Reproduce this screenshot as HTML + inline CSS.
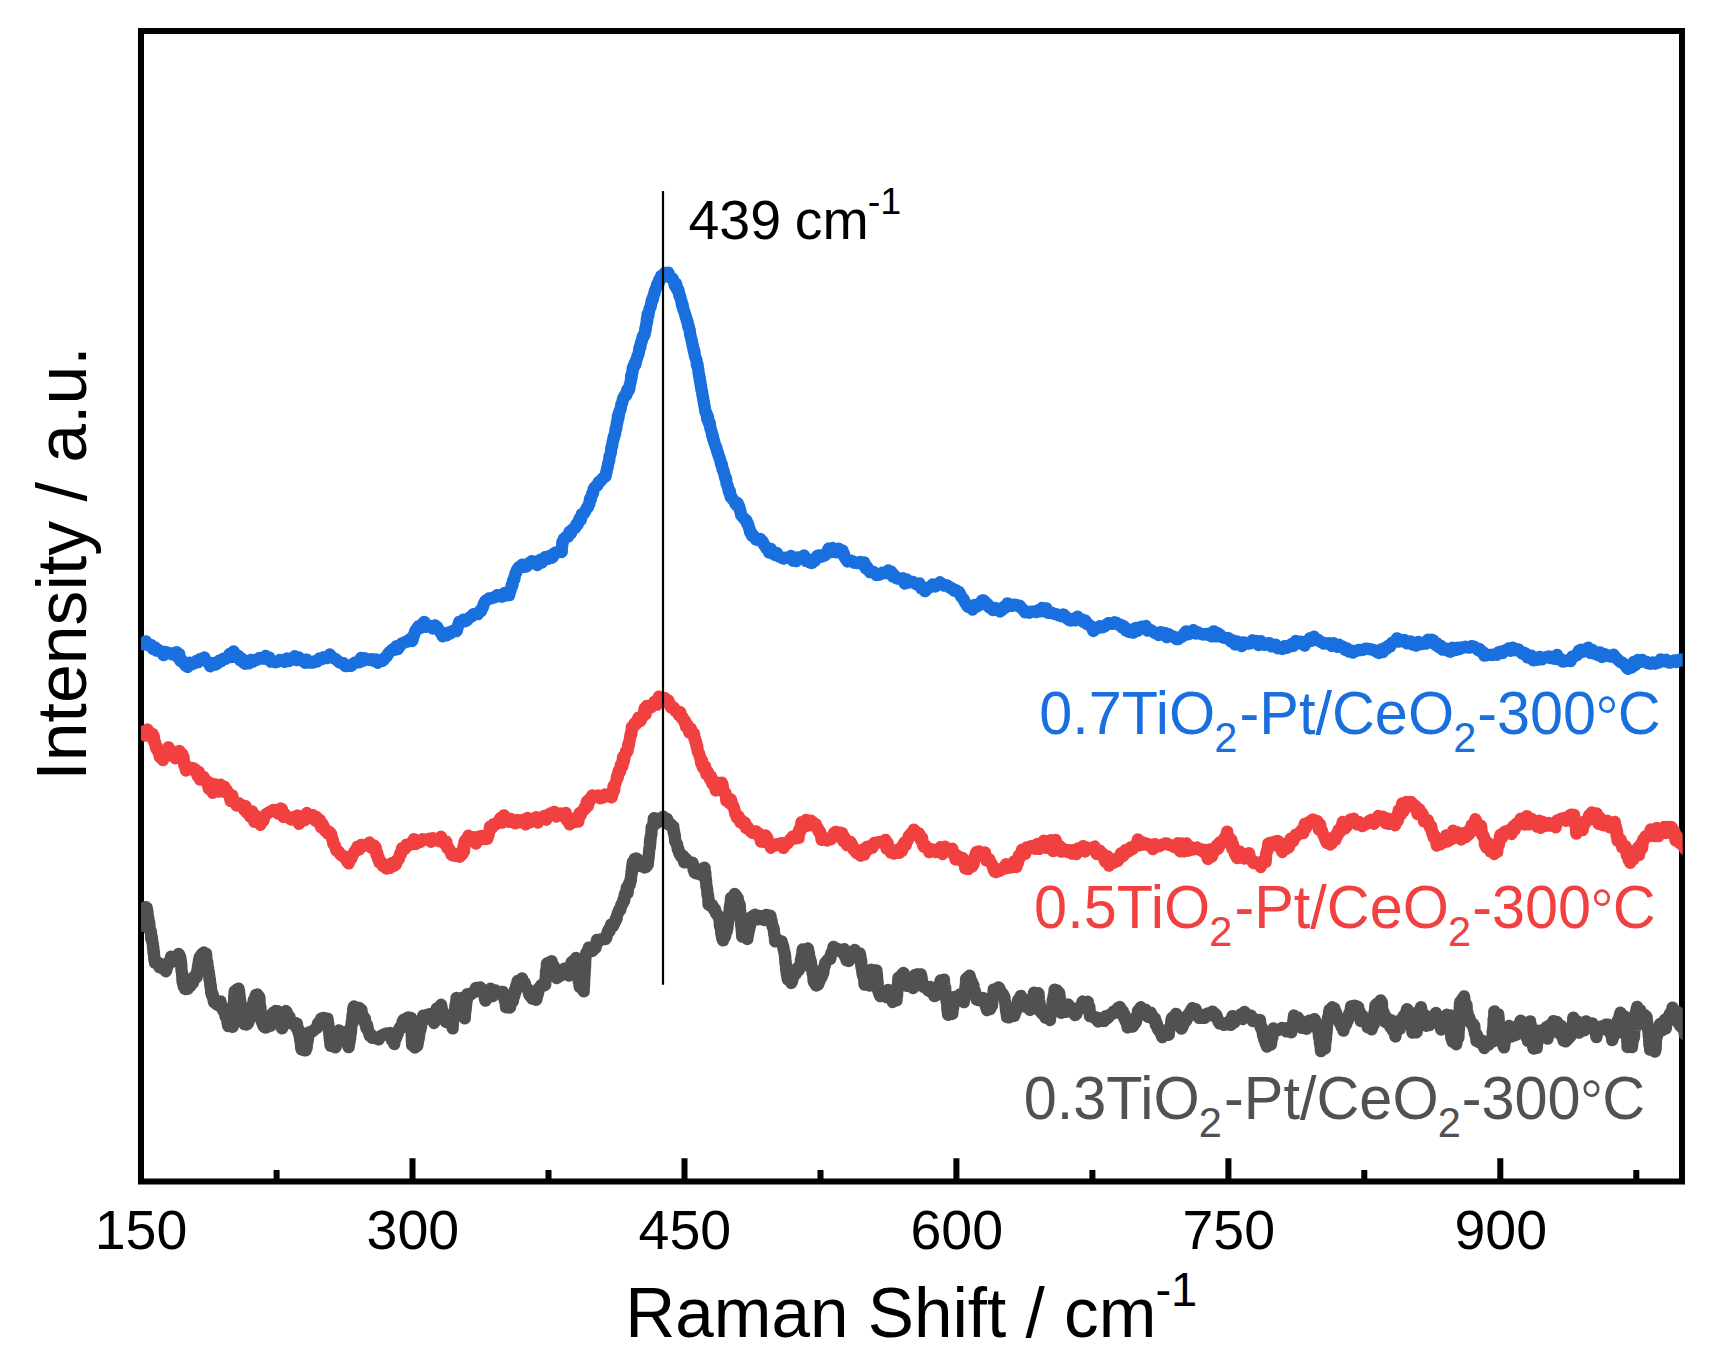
<!DOCTYPE html>
<html lang="en"><head><meta charset="utf-8"><title>Raman spectra</title>
<style>html,body{margin:0;padding:0;background:#fff;}svg{display:block;}text{font-family:"Liberation Sans",Arial,sans-serif;}</style></head><body>
<svg width="1715" height="1371" viewBox="0 0 1715 1371">
<rect x="0" y="0" width="1715" height="1371" fill="#ffffff"/>
<defs><clipPath id="plot"><rect x="141.0" y="31.0" width="1541.7" height="1150.5"/></clipPath></defs>
<rect x="141.0" y="31.0" width="1541.0" height="1150.5" fill="none" stroke="#000" stroke-width="6"/>
<path d="M412.5,1181.5 V1158.2 M684.5,1181.5 V1158.2 M956.4,1181.5 V1158.2 M1228.4,1181.5 V1158.2 M1500.3,1181.5 V1158.2 M276.6,1181.5 V1170 M548.5,1181.5 V1170 M820.5,1181.5 V1170 M1092.4,1181.5 V1170 M1364.3,1181.5 V1170 M1636.3,1181.5 V1170" stroke="#000" stroke-width="6" fill="none"/>
<g clip-path="url(#plot)" fill="none" stroke-linejoin="round" stroke-linecap="butt">
<path d="M137.7,930.7 L138.5,926.6 L139.3,926.2 L140.2,925.1 L141.0,920.6 L141.8,917.6 L142.5,921.0 L143.3,914.2 L144.1,911.5 L144.9,914.4 L145.6,907.1 L146.4,908.8 L146.7,907.9 L147.0,912.8 L147.4,911.0 L147.7,916.0 L148.0,918.8 L148.3,918.1 L148.7,922.3 L149.0,924.9 L149.3,922.6 L149.7,929.9 L150.1,930.2 L150.5,931.9 L150.9,931.4 L151.3,939.1 L151.7,936.7 L152.1,940.5 L152.5,943.2 L152.8,943.8 L153.1,948.7 L153.3,947.0 L153.6,953.3 L153.9,951.8 L154.2,957.4 L154.4,960.1 L154.7,958.7 L155.0,962.8 L157.2,961.9 L159.5,967.3 L161.1,964.1 L162.7,968.6 L164.3,967.7 L165.9,971.4 L166.8,968.3 L167.6,965.7 L168.5,964.8 L169.4,961.3 L170.2,961.2 L171.1,956.7 L173.0,960.5 L174.9,961.1 L176.2,961.1 L177.5,958.9 L178.8,953.9 L180.1,956.6 L180.3,957.8 L180.6,960.3 L180.8,960.7 L181.0,965.6 L181.2,963.6 L181.5,970.6 L181.7,970.8 L181.9,972.8 L182.1,972.7 L182.4,979.0 L182.6,982.1 L183.1,977.8 L183.6,986.3 L184.2,985.4 L184.7,986.8 L185.2,989.0 L186.5,989.1 L187.8,988.8 L189.0,981.6 L190.3,986.1 L191.6,978.9 L192.9,982.9 L194.1,976.5 L195.4,978.3 L196.7,977.1 L197.1,971.1 L197.4,974.0 L197.8,967.8 L198.2,964.8 L198.5,966.9 L198.9,960.3 L199.3,959.6 L199.6,957.5 L200.0,956.8 L201.9,954.2 L203.8,952.5 L205.7,957.9 L206.1,953.8 L206.4,960.5 L206.8,962.0 L207.2,961.6 L207.6,965.2 L207.9,967.0 L208.3,969.7 L208.6,971.4 L208.9,973.3 L209.2,975.0 L209.5,979.5 L209.8,978.9 L210.0,981.0 L210.3,985.9 L210.6,984.8 L210.9,986.7 L211.2,993.0 L211.5,991.2 L212.1,995.8 L212.8,994.3 L213.4,999.2 L214.1,1002.4 L214.7,999.9 L216.6,1004.5 L218.6,1005.0 L220.5,1001.3 L221.4,1007.5 L222.3,1006.7 L223.2,1010.7 L224.1,1009.6 L225.0,1013.8 L225.6,1016.9 L226.3,1015.5 L226.9,1018.0 L227.5,1022.3 L228.2,1026.1 L228.8,1023.6 L230.8,1026.0 L232.7,1026.8 L232.8,1022.8 L233.0,1021.6 L233.1,1018.9 L233.2,1016.5 L233.3,1015.9 L233.5,1011.5 L233.6,1009.4 L233.7,1010.7 L233.8,1002.7 L234.0,1004.4 L234.1,1002.7 L234.2,998.3 L234.3,995.2 L234.5,997.4 L234.6,991.2 L236.6,989.8 L238.5,988.6 L238.8,992.9 L239.1,991.1 L239.4,995.8 L239.7,996.3 L240.0,1001.8 L240.2,1000.0 L240.5,1006.8 L240.8,1004.3 L241.1,1008.2 L241.4,1011.0 L241.7,1014.6 L242.3,1014.8 L243.0,1017.3 L243.6,1018.7 L244.3,1024.0 L244.9,1022.2 L246.4,1024.6 L247.9,1023.6 L249.4,1018.9 L249.9,1017.5 L250.3,1018.0 L250.8,1013.3 L251.2,1013.4 L251.7,1009.1 L252.1,1006.6 L252.6,1004.5 L253.2,1005.7 L253.9,999.7 L254.5,999.1 L255.2,997.2 L255.8,995.0 L257.4,994.4 L259.0,999.4 L259.2,997.0 L259.5,998.1 L259.7,1005.4 L259.9,1004.8 L260.2,1009.0 L260.4,1007.0 L260.7,1013.1 L260.9,1015.7 L261.1,1013.3 L261.4,1019.5 L261.6,1021.3 L262.4,1023.0 L263.3,1025.6 L264.1,1027.0 L266.0,1027.5 L268.0,1026.5 L269.9,1024.2 L270.5,1025.8 L271.0,1019.8 L271.6,1022.8 L272.1,1013.8 L272.7,1018.3 L273.2,1012.7 L273.8,1012.3 L275.7,1011.0 L277.6,1011.2 L278.1,1013.2 L278.6,1011.8 L279.1,1020.3 L279.6,1017.7 L280.0,1021.1 L280.5,1025.1 L281.0,1026.1 L281.5,1026.9 L282.1,1028.4 L282.6,1024.1 L283.2,1021.7 L283.8,1018.4 L284.3,1020.3 L284.9,1014.2 L285.4,1015.6 L286.0,1011.0 L286.9,1012.6 L287.8,1015.9 L288.6,1020.0 L289.5,1016.8 L290.4,1023.1 L292.6,1023.1 L294.9,1022.9 L295.9,1027.1 L296.9,1023.6 L297.8,1029.9 L298.8,1033.4 L299.1,1030.5 L299.5,1035.6 L299.8,1036.5 L300.1,1040.1 L300.5,1040.9 L300.8,1042.8 L301.1,1048.0 L301.5,1045.5 L301.8,1049.6 L303.8,1050.1 L305.7,1050.4 L306.1,1045.8 L306.5,1048.4 L306.9,1045.4 L307.3,1038.8 L307.7,1040.9 L308.1,1036.9 L308.5,1035.1 L308.9,1032.4 L310.6,1032.9 L312.4,1031.4 L314.1,1029.9 L315.9,1028.4 L316.9,1027.9 L318.0,1023.5 L319.0,1023.6 L320.1,1022.1 L321.1,1018.7 L323.2,1017.8 L325.4,1018.6 L327.5,1018.7 L327.8,1021.2 L328.0,1024.7 L328.3,1023.6 L328.6,1029.2 L328.8,1030.1 L329.1,1032.0 L329.4,1034.1 L329.6,1036.6 L329.9,1040.2 L330.2,1040.0 L330.4,1044.8 L330.7,1045.8 L332.9,1045.2 L335.2,1047.4 L335.7,1047.0 L336.3,1040.7 L336.8,1041.9 L337.4,1038.0 L337.9,1038.0 L338.5,1036.5 L339.0,1030.4 L341.6,1033.9 L344.2,1032.7 L344.8,1032.1 L345.5,1037.4 L346.1,1035.8 L346.8,1042.5 L347.4,1041.8 L348.1,1045.7 L348.7,1047.2 L349.0,1044.4 L349.3,1043.2 L349.6,1041.1 L349.9,1036.0 L350.2,1038.6 L350.4,1032.1 L350.7,1030.4 L351.0,1032.6 L351.3,1025.3 L351.6,1025.0 L351.9,1020.8 L352.2,1024.1 L352.4,1017.0 L352.7,1013.8 L353.0,1017.6 L353.3,1008.2 L353.5,1011.6 L353.8,1006.5 L356.1,1007.4 L358.3,1008.5 L359.3,1007.9 L360.3,1013.7 L361.4,1009.8 L362.4,1017.8 L363.4,1016.4 L364.1,1021.5 L364.9,1018.6 L365.6,1024.7 L366.4,1028.2 L367.1,1024.9 L367.9,1029.7 L368.6,1031.6 L369.9,1035.9 L371.1,1034.7 L372.4,1037.8 L374.5,1037.4 L376.7,1038.6 L378.8,1039.3 L380.5,1036.0 L382.3,1035.4 L384.0,1034.4 L386.6,1033.3 L389.1,1034.0 L390.1,1033.0 L391.1,1036.4 L392.2,1040.8 L393.2,1038.0 L394.2,1044.1 L395.1,1037.1 L395.9,1038.7 L396.8,1035.9 L397.7,1033.5 L398.5,1030.9 L399.4,1028.6 L400.5,1026.9 L401.5,1027.6 L402.6,1021.6 L403.7,1019.7 L404.7,1020.6 L405.8,1018.9 L408.4,1017.4 L410.9,1018.0 L411.0,1023.0 L411.1,1021.8 L411.2,1025.9 L411.3,1026.7 L411.4,1031.6 L411.5,1031.8 L411.7,1033.3 L411.8,1037.3 L411.9,1041.3 L412.0,1038.7 L412.1,1045.2 L412.2,1044.0 L414.8,1047.5 L417.3,1045.9 L417.7,1043.1 L418.0,1041.9 L418.4,1037.9 L418.7,1038.7 L419.1,1035.6 L419.4,1032.2 L419.8,1031.6 L420.1,1027.8 L420.5,1029.5 L420.8,1021.3 L421.2,1026.0 L421.9,1019.3 L422.5,1019.5 L423.1,1015.7 L423.8,1015.9 L425.9,1015.6 L428.1,1014.5 L430.2,1014.2 L431.1,1017.2 L432.1,1020.3 L433.1,1018.9 L434.0,1023.0 L434.5,1022.2 L434.9,1017.7 L435.4,1015.5 L435.8,1012.8 L436.3,1013.0 L436.7,1008.7 L437.2,1008.2 L439.1,1007.9 L441.1,1004.7 L441.6,1007.7 L442.0,1010.4 L442.5,1010.6 L442.9,1014.9 L443.4,1016.3 L443.8,1019.7 L444.3,1017.1 L446.0,1022.0 L447.7,1016.8 L449.4,1017.0 L450.2,1021.7 L451.0,1019.8 L451.8,1021.6 L452.6,1028.4 L452.9,1021.7 L453.2,1020.6 L453.6,1019.2 L453.9,1018.6 L454.2,1012.2 L454.6,1013.0 L454.9,1010.4 L455.2,1008.9 L455.5,1004.5 L455.9,1003.9 L456.2,1004.0 L456.5,997.9 L458.8,1001.0 L461.0,998.2 L461.5,1001.2 L462.1,1006.3 L462.6,1003.0 L463.2,1010.2 L463.7,1012.6 L464.3,1008.8 L464.8,1018.4 L465.1,1010.4 L465.4,1011.4 L465.7,1009.2 L466.0,1003.8 L466.2,1004.5 L466.5,1000.8 L466.8,1000.6 L467.1,994.2 L467.4,995.1 L469.9,995.0 L472.5,992.8 L474.2,992.2 L476.0,987.8 L477.7,989.3 L480.2,987.4 L482.8,990.3 L483.3,991.5 L483.8,994.1 L484.4,993.4 L484.9,998.7 L485.4,1000.6 L486.7,994.9 L487.9,998.0 L489.2,994.5 L490.5,988.7 L492.8,996.1 L495.1,990.3 L497.0,992.1 L499.0,993.6 L500.9,992.1 L502.8,991.8 L503.3,995.0 L503.9,996.5 L504.4,998.8 L504.9,1001.0 L505.5,1001.5 L506.0,1007.1 L507.6,1007.4 L509.3,1007.1 L510.0,1007.5 L510.8,1003.4 L511.5,1001.6 L512.2,999.2 L512.9,1001.2 L513.7,992.9 L514.4,995.7 L514.9,990.0 L515.5,992.0 L516.0,986.7 L516.5,985.2 L517.1,983.2 L517.6,981.0 L519.9,982.4 L522.1,978.3 L523.4,985.5 L524.7,982.6 L525.9,987.6 L527.2,988.5 L528.2,989.4 L529.3,994.7 L530.3,996.3 L531.4,995.8 L532.4,998.7 L534.3,999.0 L536.2,999.8 L536.8,997.2 L537.5,994.8 L538.1,992.9 L538.8,988.2 L539.4,988.7 L541.3,985.0 L543.3,985.8 L545.2,984.8 L545.4,980.5 L545.6,978.1 L545.8,980.0 L546.0,971.0 L546.3,974.0 L546.5,970.1 L546.7,969.3 L546.9,963.7 L547.1,963.5 L549.4,962.5 L551.6,961.2 L552.3,965.4 L553.1,966.2 L553.8,965.7 L554.5,972.3 L555.2,970.9 L556.0,974.1 L556.7,978.1 L558.7,971.2 L560.6,975.6 L561.9,971.9 L563.1,969.6 L564.4,968.6 L565.9,970.6 L567.4,970.4 L568.9,975.5 L569.4,969.1 L570.0,970.0 L570.5,967.9 L571.0,964.2 L571.6,962.2 L572.1,961.8 L574.0,962.7 L576.0,957.9 L576.3,965.6 L576.7,966.8 L577.0,966.0 L577.4,971.4 L577.7,972.7 L578.1,973.5 L578.4,977.4 L578.8,981.9 L579.1,979.0 L579.5,985.8 L579.8,987.2 L581.8,984.5 L583.7,991.3 L583.8,985.3 L584.0,985.7 L584.1,981.7 L584.2,981.0 L584.3,975.7 L584.5,976.4 L584.6,973.8 L584.7,971.9 L584.8,967.1 L585.0,968.1 L585.1,964.7 L585.2,961.4 L585.3,959.7 L585.5,957.5 L585.6,955.9 L586.4,952.7 L587.2,952.0 L588.0,950.6 L588.8,947.7 L590.5,947.8 L592.3,950.9 L594.0,949.2 L594.8,948.0 L595.5,947.8 L596.3,943.9 L597.0,939.9 L597.8,942.3 L599.8,940.5 L601.7,939.2 L603.6,939.1 L605.5,939.0 L606.3,937.8 L607.1,934.4 L607.8,931.7 L608.6,929.8 L609.4,931.5 L611.1,924.6 L612.8,926.5 L614.5,922.7 L615.1,921.6 L615.8,918.9 L616.5,918.8 L617.1,915.5 L617.8,913.3 L618.4,912.0 L619.4,909.3 L620.3,909.9 L621.2,905.2 L622.2,903.1 L622.9,903.4 L623.5,899.5 L624.2,900.7 L624.8,894.1 L625.5,895.4 L626.1,893.5 L626.8,887.5 L627.6,892.8 L628.3,885.4 L629.0,883.7 L629.8,884.7 L630.5,879.3 L630.8,880.7 L631.1,876.7 L631.4,874.3 L631.7,870.8 L631.9,873.1 L632.2,866.0 L632.5,868.2 L632.8,862.1 L633.1,864.5 L634.7,858.9 L636.3,858.5 L637.6,859.3 L638.9,864.3 L640.1,864.7 L641.4,866.3 L642.7,866.3 L644.4,867.5 L646.2,866.9 L647.9,864.3 L648.1,860.0 L648.4,859.1 L648.6,856.8 L648.8,855.0 L649.1,851.8 L649.3,848.5 L649.6,848.4 L649.8,847.5 L650.1,839.5 L650.3,843.8 L650.6,836.6 L650.9,836.9 L651.2,834.4 L651.4,834.2 L651.7,827.0 L652.2,827.5 L652.7,825.4 L653.3,826.1 L653.8,818.5 L654.3,818.1 L656.8,823.0 L659.4,818.4 L661.3,820.0 L663.3,816.6 L664.6,819.3 L665.8,823.0 L667.1,818.9 L669.0,824.7 L671.0,824.4 L672.9,826.8 L673.3,826.5 L673.6,832.5 L674.0,831.0 L674.4,835.3 L674.8,835.1 L675.1,841.1 L675.5,841.1 L676.2,843.2 L677.0,844.0 L677.8,849.3 L678.5,849.4 L679.2,853.1 L680.0,853.2 L681.4,857.0 L682.9,855.6 L684.3,862.4 L685.7,858.5 L687.8,862.0 L690.0,863.0 L692.1,863.7 L692.6,862.7 L693.1,865.2 L693.7,870.2 L694.2,869.1 L694.7,872.7 L696.8,873.5 L699.0,870.9 L701.1,874.9 L702.2,871.8 L703.2,868.1 L704.3,867.8 L704.6,867.7 L704.8,870.8 L705.1,876.9 L705.3,872.6 L705.6,880.1 L705.9,879.0 L706.1,880.8 L706.4,886.8 L706.6,886.1 L706.9,888.1 L707.2,889.9 L707.4,894.2 L707.7,896.1 L708.0,895.0 L708.3,897.7 L708.5,904.5 L708.8,900.4 L710.5,905.9 L712.3,905.2 L714.0,909.4 L715.0,909.3 L716.0,913.3 L717.1,914.5 L718.1,915.5 L719.1,918.6 L719.5,918.7 L720.0,926.5 L720.4,923.7 L720.8,925.0 L721.3,933.9 L721.7,928.6 L722.1,937.9 L722.6,933.8 L723.0,940.4 L724.0,934.9 L724.9,937.0 L725.8,932.5 L726.8,931.0 L727.1,929.0 L727.4,928.3 L727.7,922.6 L728.0,923.3 L728.3,920.5 L728.6,915.3 L728.9,917.9 L729.2,912.3 L729.5,913.2 L729.8,906.7 L730.1,907.7 L730.4,903.7 L730.7,904.4 L731.0,897.8 L731.3,898.1 L733.0,898.3 L734.7,894.0 L736.4,896.0 L737.0,898.5 L737.7,898.1 L738.3,902.1 L739.0,904.3 L739.6,904.2 L739.8,906.5 L740.0,913.2 L740.2,910.5 L740.4,915.6 L740.6,915.7 L740.8,919.6 L741.0,919.4 L741.2,926.0 L741.4,925.1 L741.6,928.3 L741.8,931.6 L742.0,931.1 L742.2,936.7 L743.9,935.2 L745.6,935.2 L747.3,939.0 L747.7,935.2 L748.2,934.6 L748.6,929.4 L749.0,930.6 L749.5,924.6 L749.9,926.4 L750.3,924.0 L750.8,917.5 L751.2,921.7 L753.1,915.8 L755.0,914.7 L757.2,919.4 L759.5,915.8 L761.8,918.2 L764.0,920.1 L766.1,914.8 L768.3,920.4 L770.4,915.6 L771.0,919.8 L771.5,920.2 L772.0,924.4 L772.6,926.7 L773.2,927.1 L773.7,929.0 L774.0,932.1 L774.3,934.9 L774.5,934.9 L774.8,936.5 L775.1,941.4 L777.3,939.4 L779.4,941.3 L781.6,941.4 L782.1,944.2 L782.7,944.7 L783.2,946.6 L783.7,949.6 L784.3,952.0 L784.8,954.0 L785.0,956.7 L785.2,956.8 L785.4,963.3 L785.6,961.2 L785.9,964.7 L786.1,968.8 L786.3,970.9 L786.5,971.0 L786.7,972.9 L787.8,979.6 L789.0,976.0 L790.1,979.5 L791.2,983.0 L792.1,981.0 L793.0,977.4 L793.9,975.3 L794.8,973.0 L795.7,974.0 L797.2,968.2 L798.7,970.1 L800.2,965.8 L800.6,967.2 L800.9,959.7 L801.3,960.9 L801.6,956.5 L802.0,956.9 L802.3,954.0 L802.7,949.4 L805.3,953.0 L807.9,948.5 L808.4,952.9 L808.9,952.8 L809.3,958.6 L809.8,957.9 L810.3,960.6 L810.8,961.1 L811.2,965.1 L811.7,967.1 L812.0,968.3 L812.4,971.7 L812.7,974.1 L813.0,974.0 L813.3,975.4 L813.6,980.6 L814.0,982.1 L814.3,982.0 L816.2,985.5 L818.1,984.7 L819.0,982.2 L819.8,980.5 L820.7,976.4 L821.6,977.1 L822.4,974.6 L823.3,973.0 L823.8,968.1 L824.2,967.2 L824.7,966.1 L825.2,963.1 L826.9,961.1 L828.6,958.8 L830.3,958.9 L830.9,954.9 L831.6,952.5 L832.2,952.1 L832.9,951.4 L833.5,946.8 L835.4,948.2 L837.4,948.9 L839.3,949.5 L841.8,952.4 L844.4,949.2 L844.9,956.5 L845.4,953.1 L846.0,957.4 L846.5,960.3 L847.0,960.3 L848.7,961.0 L850.4,957.9 L852.1,957.5 L853.4,955.2 L854.7,949.9 L857.2,954.3 L859.8,953.4 L860.1,955.7 L860.4,955.9 L860.7,960.0 L861.0,964.0 L861.2,960.3 L861.5,967.8 L861.8,966.7 L862.1,969.3 L862.4,972.7 L862.9,975.1 L863.4,976.8 L864.0,976.0 L864.5,984.6 L865.0,981.1 L867.2,982.8 L869.5,985.7 L869.8,979.9 L870.1,977.0 L870.5,978.0 L870.8,975.5 L871.1,970.0 L871.4,969.7 L873.1,970.3 L874.8,970.4 L876.5,970.4 L876.7,978.1 L876.9,973.9 L877.2,979.2 L877.4,981.2 L877.6,981.9 L877.8,986.1 L878.1,988.1 L878.3,990.8 L878.5,991.5 L880.1,996.1 L881.7,992.4 L883.8,993.2 L886.0,997.0 L888.1,989.8 L889.2,994.3 L890.4,997.3 L891.5,997.0 L892.6,1002.0 L894.5,997.8 L896.4,997.5 L896.6,1000.4 L896.8,990.8 L897.1,996.0 L897.3,986.6 L897.5,990.9 L897.7,985.3 L898.0,985.0 L898.2,980.7 L898.4,977.7 L900.1,981.0 L901.8,974.7 L903.5,972.9 L904.3,977.9 L905.0,980.6 L905.8,976.4 L906.5,985.9 L907.3,984.0 L909.0,985.9 L910.8,985.1 L912.5,986.5 L913.0,988.1 L913.5,981.3 L914.0,979.9 L914.5,978.1 L915.0,975.1 L917.6,974.2 L920.2,977.8 L920.8,974.3 L921.5,977.2 L922.1,982.5 L922.7,983.2 L923.4,986.9 L924.0,985.3 L926.1,986.6 L928.3,990.7 L930.4,987.0 L931.4,992.0 L932.3,992.2 L933.3,992.9 L934.3,996.1 L936.2,995.2 L938.1,993.0 L938.6,989.8 L939.1,987.4 L939.7,985.9 L940.2,982.7 L940.7,980.4 L942.3,983.7 L943.9,979.6 L944.2,984.5 L944.5,987.6 L944.9,990.3 L945.2,987.6 L945.5,995.5 L945.9,996.9 L946.2,996.0 L946.5,1000.5 L946.8,1002.7 L947.1,1002.2 L947.5,1010.7 L947.8,1007.0 L948.1,1014.8 L948.4,1012.6 L950.3,1010.7 L952.3,1013.9 L952.7,1009.0 L953.0,1008.9 L953.4,1005.3 L953.7,1002.6 L954.1,1003.8 L954.4,996.8 L954.8,998.8 L957.4,997.4 L960.0,994.5 L961.3,999.8 L962.5,998.6 L963.8,1002.2 L964.1,999.0 L964.3,996.8 L964.6,994.4 L964.8,992.4 L965.1,991.5 L965.4,988.4 L965.6,986.0 L965.9,985.2 L966.1,978.8 L966.4,983.0 L968.0,977.0 L969.6,975.7 L970.4,979.5 L971.1,982.8 L971.9,981.7 L972.6,987.1 L973.4,985.2 L974.1,992.7 L974.8,990.8 L975.4,994.2 L976.1,995.9 L976.7,999.4 L978.8,1000.2 L981.0,997.9 L983.1,998.2 L983.9,1002.5 L984.7,1000.5 L985.5,1004.5 L986.3,1007.8 L987.1,1010.2 L988.6,1003.7 L990.1,1009.0 L991.6,1002.1 L992.0,1005.4 L992.3,999.2 L992.7,996.9 L993.0,995.9 L993.4,995.6 L993.7,989.4 L994.1,990.7 L996.4,989.1 L998.6,987.3 L999.8,989.2 L1000.9,992.3 L1002.1,993.2 L1003.2,994.5 L1004.4,997.1 L1004.7,1000.4 L1005.0,1001.6 L1005.3,1002.2 L1005.6,1005.4 L1005.8,1007.5 L1006.1,1011.6 L1006.4,1011.0 L1006.7,1013.4 L1007.0,1017.0 L1008.9,1017.4 L1010.8,1015.7 L1012.5,1016.1 L1014.2,1015.9 L1015.9,1011.0 L1016.3,1010.5 L1016.8,1008.3 L1017.2,1005.8 L1017.6,1005.2 L1018.1,1000.0 L1018.5,1001.5 L1020.8,995.8 L1023.0,1001.3 L1023.9,998.9 L1024.8,1001.7 L1025.7,1006.9 L1026.6,1005.3 L1027.5,1006.8 L1030.0,1010.0 L1032.6,1008.0 L1032.8,1004.1 L1033.0,1002.1 L1033.2,1002.5 L1033.5,995.9 L1033.7,1000.1 L1033.9,992.6 L1036.2,993.7 L1038.4,993.2 L1038.6,995.8 L1038.8,996.8 L1039.0,1000.0 L1039.2,1002.3 L1039.5,1004.1 L1039.7,1003.1 L1039.9,1010.9 L1040.1,1011.0 L1040.3,1010.1 L1042.0,1013.4 L1043.8,1014.3 L1045.5,1017.8 L1047.0,1014.2 L1048.5,1016.3 L1050.0,1020.1 L1050.4,1015.4 L1050.7,1015.8 L1051.1,1013.4 L1051.4,1008.9 L1051.8,1007.9 L1052.1,1005.7 L1052.5,1006.2 L1052.8,999.6 L1053.2,1000.8 L1053.7,995.4 L1054.2,998.2 L1054.6,989.6 L1055.1,994.4 L1057.0,990.4 L1058.9,993.2 L1059.2,992.7 L1059.5,996.2 L1059.8,998.4 L1060.1,1002.7 L1060.3,1003.1 L1060.6,1003.3 L1060.9,1010.3 L1061.2,1009.7 L1061.5,1012.9 L1063.1,1010.1 L1064.7,1008.6 L1066.4,1011.8 L1068.1,1004.5 L1069.8,1006.7 L1070.8,1008.6 L1071.9,1008.0 L1072.9,1012.1 L1074.0,1013.7 L1075.0,1015.2 L1076.3,1014.1 L1077.5,1010.2 L1078.8,1008.0 L1080.1,1008.5 L1081.4,1005.3 L1082.7,1001.5 L1085.2,1007.2 L1087.8,1001.7 L1088.3,1007.9 L1088.8,1011.1 L1089.4,1007.0 L1089.9,1016.1 L1090.4,1014.2 L1092.3,1015.9 L1094.2,1017.8 L1096.2,1017.4 L1098.1,1021.5 L1100.0,1018.4 L1101.9,1020.6 L1103.9,1020.9 L1105.8,1016.1 L1107.3,1018.4 L1108.9,1016.7 L1110.4,1014.3 L1112.0,1013.8 L1113.5,1011.4 L1115.1,1013.0 L1116.7,1009.6 L1118.3,1007.8 L1119.9,1007.0 L1120.9,1009.5 L1121.8,1012.2 L1122.8,1011.2 L1123.8,1017.3 L1124.6,1014.8 L1125.3,1020.4 L1126.1,1022.1 L1126.8,1020.8 L1127.6,1027.5 L1130.2,1024.7 L1132.7,1026.7 L1133.8,1024.9 L1134.9,1023.6 L1136.0,1021.9 L1136.5,1016.4 L1137.0,1018.3 L1137.5,1015.5 L1138.0,1011.0 L1138.5,1010.8 L1140.8,1007.2 L1143.0,1011.2 L1144.3,1011.3 L1145.5,1009.6 L1146.8,1014.6 L1148.1,1016.9 L1150.7,1012.6 L1153.3,1019.1 L1154.2,1017.9 L1155.0,1018.5 L1155.8,1024.9 L1156.7,1023.0 L1157.6,1028.3 L1158.4,1029.9 L1159.7,1029.1 L1161.0,1033.6 L1162.3,1037.2 L1164.4,1033.6 L1166.6,1033.2 L1168.7,1034.8 L1169.2,1029.7 L1169.8,1028.5 L1170.3,1026.0 L1170.9,1026.2 L1171.4,1020.7 L1172.0,1017.8 L1172.5,1019.6 L1174.2,1016.8 L1176.0,1013.8 L1177.7,1016.4 L1178.1,1017.8 L1178.4,1017.1 L1178.8,1022.5 L1179.1,1022.9 L1179.5,1026.0 L1179.8,1026.7 L1180.2,1026.8 L1181.5,1028.6 L1182.8,1026.3 L1184.1,1022.1 L1185.4,1021.5 L1186.4,1020.3 L1187.4,1015.4 L1188.5,1016.6 L1189.5,1013.3 L1190.5,1011.3 L1192.5,1008.1 L1194.4,1010.2 L1195.6,1009.1 L1196.8,1015.0 L1197.9,1012.9 L1199.1,1017.8 L1200.3,1017.8 L1202.4,1017.6 L1204.6,1017.8 L1206.7,1014.0 L1208.6,1013.2 L1210.6,1015.4 L1212.5,1011.6 L1214.4,1013.9 L1215.4,1013.8 L1216.4,1015.3 L1217.5,1018.7 L1218.5,1021.7 L1219.5,1023.4 L1221.6,1023.0 L1223.8,1024.9 L1225.9,1024.0 L1227.5,1024.4 L1229.2,1021.3 L1230.8,1024.9 L1232.4,1016.1 L1234.5,1022.4 L1236.7,1017.3 L1238.8,1017.8 L1240.7,1014.5 L1242.7,1019.1 L1244.6,1011.9 L1246.5,1014.8 L1248.1,1015.6 L1249.7,1015.4 L1251.3,1015.8 L1252.9,1021.1 L1255.0,1019.3 L1257.2,1020.0 L1259.3,1023.7 L1259.9,1020.0 L1260.6,1026.8 L1261.2,1028.8 L1261.9,1027.6 L1262.5,1030.8 L1263.2,1036.3 L1263.8,1032.9 L1264.4,1040.0 L1265.1,1037.0 L1265.7,1043.8 L1266.4,1042.2 L1267.0,1046.7 L1269.0,1043.0 L1270.9,1044.7 L1271.3,1041.3 L1271.7,1037.9 L1272.2,1037.9 L1272.6,1033.1 L1273.0,1034.7 L1273.4,1028.4 L1275.5,1030.6 L1277.7,1030.1 L1279.8,1029.4 L1282.0,1028.0 L1284.1,1028.3 L1286.3,1031.3 L1288.8,1027.4 L1291.4,1032.3 L1291.8,1026.6 L1292.3,1027.4 L1292.7,1024.0 L1293.1,1022.4 L1293.6,1019.6 L1294.0,1015.5 L1295.9,1018.3 L1297.8,1017.5 L1298.8,1021.6 L1299.8,1019.8 L1300.7,1021.3 L1301.7,1027.9 L1303.6,1027.2 L1305.5,1027.9 L1306.5,1028.9 L1307.5,1022.2 L1308.4,1023.0 L1309.4,1020.6 L1312.0,1021.0 L1314.5,1019.1 L1315.3,1020.9 L1316.1,1024.8 L1316.8,1028.7 L1317.6,1026.9 L1318.4,1029.9 L1318.7,1031.1 L1319.0,1037.5 L1319.3,1036.0 L1319.7,1038.3 L1320.0,1043.9 L1320.3,1043.8 L1320.6,1044.3 L1320.9,1051.1 L1322.8,1046.1 L1324.8,1048.1 L1325.0,1048.5 L1325.2,1043.2 L1325.4,1040.5 L1325.6,1041.5 L1325.8,1035.7 L1326.0,1039.2 L1326.3,1029.6 L1326.5,1033.9 L1326.7,1027.1 L1326.9,1028.8 L1327.1,1023.4 L1327.3,1024.1 L1327.7,1020.1 L1328.0,1017.9 L1328.4,1016.4 L1328.8,1016.6 L1329.2,1011.8 L1329.5,1009.9 L1329.9,1009.8 L1332.2,1007.3 L1334.4,1008.5 L1335.2,1011.2 L1335.9,1012.2 L1336.7,1015.2 L1337.4,1016.2 L1338.2,1017.5 L1338.9,1019.4 L1339.8,1023.0 L1340.7,1022.5 L1341.6,1027.1 L1342.5,1025.4 L1343.4,1030.7 L1344.3,1026.8 L1345.2,1025.5 L1346.1,1024.4 L1347.0,1021.6 L1347.9,1020.2 L1348.5,1018.3 L1349.2,1013.5 L1349.8,1016.2 L1350.4,1011.8 L1351.1,1006.5 L1351.7,1010.1 L1354.3,1005.7 L1356.9,1006.5 L1357.5,1008.2 L1358.2,1007.0 L1358.8,1015.8 L1359.4,1011.2 L1360.1,1014.5 L1360.7,1021.1 L1362.4,1015.4 L1364.1,1020.2 L1365.8,1020.6 L1366.8,1020.2 L1367.8,1027.4 L1368.7,1026.6 L1369.7,1027.0 L1371.6,1029.4 L1373.5,1022.5 L1373.7,1024.3 L1373.9,1021.0 L1374.2,1020.6 L1374.4,1012.6 L1374.6,1016.3 L1374.8,1010.3 L1375.1,1010.1 L1375.3,1006.6 L1375.5,1005.1 L1377.8,1003.1 L1380.0,1009.3 L1380.6,1000.3 L1381.3,1016.6 L1381.9,1002.2 L1382.5,1020.1 L1383.2,1011.4 L1383.8,1012.8 L1385.1,1021.8 L1386.4,1017.3 L1387.6,1023.2 L1388.9,1020.7 L1390.2,1027.0 L1391.5,1020.4 L1392.8,1030.5 L1394.1,1025.9 L1395.4,1036.5 L1396.7,1027.1 L1397.7,1027.2 L1398.7,1029.2 L1399.8,1028.9 L1400.8,1019.9 L1401.8,1023.4 L1402.6,1019.6 L1403.4,1016.5 L1404.3,1015.3 L1405.1,1016.9 L1407.0,1009.2 L1409.0,1011.7 L1409.4,1018.7 L1409.8,1013.6 L1410.3,1020.8 L1410.7,1019.5 L1411.1,1022.3 L1411.5,1026.2 L1412.0,1026.9 L1412.4,1032.7 L1412.8,1030.8 L1414.8,1029.2 L1416.7,1032.3 L1417.0,1026.0 L1417.3,1025.1 L1417.6,1025.0 L1417.9,1023.0 L1418.1,1017.6 L1418.4,1016.8 L1418.7,1013.6 L1419.0,1011.0 L1419.3,1012.4 L1420.9,1007.2 L1422.5,1016.7 L1423.1,1013.9 L1423.8,1014.8 L1424.4,1020.4 L1425.0,1015.3 L1425.7,1025.1 L1426.3,1025.8 L1427.8,1019.3 L1429.3,1025.1 L1430.8,1018.3 L1432.5,1018.1 L1434.2,1016.9 L1435.9,1013.0 L1436.9,1018.7 L1438.0,1018.9 L1439.0,1024.4 L1440.1,1017.5 L1441.1,1029.6 L1442.0,1022.5 L1443.0,1020.4 L1444.0,1020.3 L1444.9,1018.2 L1446.6,1014.7 L1448.4,1015.6 L1450.1,1015.8 L1450.2,1016.7 L1450.4,1023.7 L1450.5,1015.5 L1450.6,1027.7 L1450.8,1026.4 L1450.9,1027.1 L1451.0,1035.9 L1451.2,1026.6 L1451.3,1037.8 L1452.6,1041.7 L1453.9,1034.1 L1455.2,1042.4 L1456.3,1044.3 L1457.3,1032.2 L1458.4,1037.8 L1458.5,1035.6 L1458.7,1030.2 L1458.8,1027.2 L1458.9,1024.1 L1459.0,1029.0 L1459.2,1020.8 L1459.3,1018.9 L1459.4,1016.1 L1459.5,1020.7 L1459.7,1011.3 L1459.8,1005.8 L1459.9,1015.8 L1460.0,1003.4 L1460.2,1002.0 L1460.3,1007.9 L1462.2,999.3 L1464.2,996.4 L1464.7,1009.5 L1465.2,1002.3 L1465.6,1003.8 L1466.1,1015.6 L1466.6,1005.1 L1467.0,1018.9 L1467.5,1013.0 L1468.0,1017.8 L1469.3,1017.6 L1470.6,1022.8 L1471.9,1024.2 L1473.2,1024.1 L1473.7,1028.7 L1474.3,1026.0 L1474.8,1033.3 L1475.4,1034.6 L1475.9,1034.3 L1476.5,1041.1 L1477.0,1035.2 L1478.7,1042.1 L1480.4,1042.8 L1482.1,1040.6 L1484.3,1048.0 L1486.4,1043.3 L1488.6,1044.8 L1490.5,1042.3 L1492.4,1037.3 L1492.6,1041.7 L1492.7,1031.0 L1492.9,1041.1 L1493.1,1029.3 L1493.3,1027.3 L1493.4,1034.4 L1493.6,1019.3 L1493.8,1029.8 L1494.0,1017.4 L1494.1,1023.7 L1494.3,1011.4 L1496.2,1022.7 L1498.2,1014.3 L1498.5,1016.9 L1498.8,1022.4 L1499.1,1024.2 L1499.4,1024.2 L1499.7,1024.8 L1499.9,1034.1 L1500.2,1025.5 L1500.5,1040.2 L1500.8,1034.7 L1501.1,1037.0 L1501.4,1042.4 L1502.3,1040.5 L1503.1,1044.0 L1504.0,1047.4 L1504.5,1043.5 L1505.0,1041.5 L1505.5,1038.5 L1506.0,1037.1 L1506.5,1038.3 L1507.2,1030.6 L1507.8,1034.4 L1508.4,1030.1 L1509.1,1025.9 L1510.4,1026.9 L1511.7,1036.4 L1512.9,1032.4 L1514.2,1034.5 L1515.0,1032.6 L1515.8,1035.0 L1516.5,1027.3 L1517.3,1027.3 L1518.1,1026.9 L1520.7,1020.6 L1523.2,1026.7 L1523.8,1025.5 L1524.5,1028.1 L1525.2,1029.5 L1525.8,1030.7 L1526.4,1037.1 L1527.1,1029.5 L1527.9,1040.9 L1528.6,1024.1 L1529.4,1035.9 L1530.1,1021.4 L1530.9,1030.5 L1531.2,1026.0 L1531.5,1027.0 L1531.8,1032.9 L1532.1,1035.7 L1532.3,1036.6 L1532.6,1038.6 L1532.9,1045.9 L1533.2,1037.9 L1533.5,1048.5 L1536.1,1041.7 L1536.7,1048.0 L1537.4,1038.9 L1538.0,1040.5 L1538.6,1036.6 L1539.3,1037.5 L1539.9,1030.7 L1542.0,1035.4 L1544.2,1033.6 L1546.3,1027.2 L1547.6,1038.6 L1548.9,1026.2 L1550.2,1024.8 L1551.5,1032.3 L1553.4,1021.1 L1555.3,1028.6 L1557.0,1022.0 L1558.7,1025.9 L1560.4,1034.4 L1561.4,1026.0 L1562.5,1033.4 L1563.5,1040.5 L1564.6,1031.9 L1565.6,1041.4 L1567.5,1039.5 L1569.4,1036.9 L1570.0,1036.9 L1570.5,1036.5 L1571.1,1027.6 L1571.6,1028.5 L1572.2,1026.7 L1572.7,1030.2 L1573.3,1017.6 L1575.2,1028.3 L1577.1,1021.2 L1579.0,1032.8 L1581.0,1026.9 L1582.7,1027.9 L1584.4,1030.4 L1586.1,1021.4 L1587.8,1028.0 L1589.5,1024.9 L1591.2,1026.9 L1592.5,1023.5 L1593.8,1028.0 L1595.1,1026.2 L1596.4,1037.1 L1598.1,1028.1 L1599.8,1027.4 L1601.5,1026.3 L1603.6,1029.0 L1605.8,1024.7 L1607.9,1024.6 L1608.8,1030.2 L1609.6,1032.3 L1610.5,1030.7 L1611.3,1028.9 L1612.2,1040.2 L1614.2,1034.0 L1616.1,1033.2 L1616.5,1027.4 L1616.8,1033.4 L1617.2,1024.9 L1617.5,1023.7 L1617.9,1020.3 L1618.2,1019.7 L1618.6,1019.7 L1620.5,1012.6 L1622.5,1019.0 L1623.8,1016.2 L1625.0,1016.6 L1626.3,1021.3 L1626.4,1021.9 L1626.5,1024.9 L1626.7,1025.7 L1626.8,1028.8 L1626.9,1028.9 L1627.0,1037.1 L1627.1,1029.3 L1627.2,1041.8 L1627.4,1034.3 L1627.5,1047.1 L1627.6,1037.9 L1629.5,1046.5 L1631.5,1044.4 L1632.0,1047.2 L1632.5,1039.1 L1633.0,1040.5 L1633.5,1035.0 L1634.0,1037.4 L1634.1,1036.1 L1634.2,1027.9 L1634.4,1029.9 L1634.5,1023.8 L1634.6,1030.7 L1634.7,1020.1 L1634.8,1022.5 L1634.9,1015.8 L1635.1,1017.6 L1635.2,1015.8 L1635.3,1014.8 L1637.2,1006.8 L1639.2,1012.8 L1639.7,1015.6 L1640.2,1010.4 L1640.7,1023.5 L1641.2,1018.4 L1641.7,1021.1 L1642.7,1022.5 L1643.7,1019.1 L1644.6,1014.9 L1645.6,1018.2 L1646.0,1016.3 L1646.3,1019.5 L1646.7,1017.6 L1647.0,1026.1 L1647.4,1023.4 L1647.7,1028.7 L1648.1,1029.8 L1648.3,1029.7 L1648.6,1033.2 L1648.8,1036.7 L1649.1,1034.4 L1649.3,1045.0 L1649.6,1042.9 L1649.8,1041.2 L1650.1,1049.6 L1652.3,1050.0 L1654.6,1042.7 L1655.0,1051.7 L1655.3,1038.2 L1655.7,1049.1 L1656.0,1035.1 L1656.4,1038.2 L1656.7,1032.3 L1657.1,1036.0 L1658.1,1032.0 L1659.0,1030.0 L1660.0,1024.0 L1661.0,1025.3 L1662.9,1030.0 L1664.8,1019.7 L1665.8,1028.5 L1666.8,1021.2 L1667.7,1021.2 L1668.7,1016.8 L1670.0,1013.4 L1671.2,1018.0 L1672.5,1007.7 L1674.5,1012.7 L1676.4,1011.3 L1677.4,1012.1 L1678.3,1022.8 L1679.2,1013.1 L1680.2,1025.9 L1681.1,1019.4 L1681.9,1027.5 L1682.8,1026.3 L1683.8,1027.3 L1684.8,1034.4 L1685.9,1027.3 L1686.9,1034.2 L1687.9,1035.7" stroke="#515151" stroke-width="12.3"/>
<path d="M137.0,732.2 L139.0,732.0 L141.0,733.3 L143.2,731.6 L145.4,735.6 L147.5,729.5 L149.7,733.0 L151.9,735.3 L152.5,733.9 L153.2,740.0 L153.8,736.3 L154.4,742.8 L155.0,741.9 L155.7,746.0 L156.3,748.8 L157.2,747.2 L158.0,751.4 L158.9,751.5 L159.8,756.9 L160.6,757.9 L161.5,755.4 L162.9,760.2 L164.3,752.2 L165.7,755.9 L167.1,750.7 L168.5,747.3 L170.2,755.4 L172.0,751.2 L173.8,752.5 L175.5,758.3 L177.5,756.4 L179.6,751.0 L181.6,756.2 L182.2,754.2 L182.9,759.5 L183.5,757.0 L184.1,764.9 L184.7,763.2 L185.4,767.8 L186.0,770.5 L188.0,767.2 L189.9,769.4 L191.9,768.0 L193.9,768.5 L195.1,769.2 L196.3,771.6 L197.6,775.9 L198.8,771.9 L200.0,779.6 L201.8,776.8 L203.5,776.8 L205.3,781.0 L206.2,780.3 L207.1,781.8 L207.9,784.5 L208.8,788.9 L210.8,783.2 L212.7,792.8 L214.7,784.3 L216.6,790.9 L218.6,791.5 L220.6,784.7 L222.5,791.7 L224.5,786.8 L225.7,792.2 L226.9,790.3 L228.2,793.4 L229.4,793.7 L230.6,801.1 L232.2,795.4 L233.7,801.6 L235.2,802.8 L236.8,805.7 L238.8,803.1 L240.9,804.9 L242.9,805.7 L244.2,810.0 L245.5,806.0 L246.8,812.7 L248.1,812.9 L250.2,816.7 L252.2,811.3 L254.3,821.9 L255.8,815.7 L257.4,819.8 L258.9,821.1 L260.4,824.8 L261.8,817.6 L263.2,821.2 L264.6,816.4 L266.0,814.2 L267.4,813.3 L269.4,812.2 L271.5,811.3 L273.5,809.9 L275.8,811.4 L278.2,813.5 L280.5,808.4 L281.9,809.1 L283.3,817.0 L284.7,814.1 L286.1,816.6 L287.5,816.7 L289.5,818.4 L291.4,819.7 L293.4,817.2 L295.4,819.0 L297.2,815.5 L298.9,823.8 L300.7,816.4 L302.7,819.0 L304.8,820.3 L306.8,813.0 L308.8,817.4 L310.9,817.8 L312.9,815.2 L314.6,820.1 L316.4,816.8 L318.1,822.6 L319.9,819.9 L321.1,827.3 L322.3,823.8 L323.6,826.2 L324.8,830.6 L326.0,829.7 L327.8,833.5 L329.5,831.9 L331.3,834.3 L331.8,838.2 L332.3,838.8 L332.9,840.3 L333.4,844.2 L333.9,844.0 L335.1,846.0 L336.3,850.4 L337.6,851.3 L338.8,851.7 L340.0,854.1 L341.8,855.8 L343.5,856.0 L345.3,857.9 L347.0,861.4 L348.8,863.4 L350.0,857.4 L351.1,858.9 L352.3,855.9 L353.5,853.6 L354.6,851.3 L355.8,850.9 L357.5,846.6 L359.3,849.5 L361.0,844.8 L362.8,845.2 L364.5,845.3 L366.9,845.7 L369.4,842.5 L371.8,848.1 L374.2,845.5 L374.9,849.5 L375.7,847.5 L376.4,854.6 L377.2,852.7 L377.9,858.4 L378.7,857.4 L379.4,862.4 L381.1,861.9 L382.9,866.1 L384.6,864.3 L386.4,868.5 L388.3,867.1 L390.2,867.8 L392.2,862.9 L394.1,865.8 L396.0,864.2 L397.0,860.4 L398.0,860.2 L399.0,858.4 L400.0,854.0 L401.0,854.0 L402.0,848.2 L403.0,850.3 L404.8,849.0 L406.5,844.6 L408.3,845.6 L410.0,843.9 L411.8,844.1 L414.0,839.1 L416.1,843.9 L418.3,840.6 L420.5,841.8 L422.7,839.1 L424.8,839.7 L427.0,839.7 L429.0,838.8 L430.9,841.8 L432.9,838.1 L434.9,840.3 L436.9,840.3 L439.0,841.2 L441.0,836.6 L442.8,842.0 L444.5,843.8 L446.3,841.6 L447.3,847.8 L448.3,847.8 L449.4,849.2 L450.4,851.5 L451.4,854.4 L452.4,855.1 L454.8,855.9 L457.2,854.0 L459.6,856.8 L462.0,854.7 L462.5,854.0 L463.0,852.1 L463.5,846.5 L464.0,851.1 L464.5,841.5 L465.0,844.2 L465.5,840.0 L467.0,840.6 L468.4,835.7 L469.9,840.3 L471.9,838.1 L474.0,837.2 L476.0,843.6 L477.8,837.0 L479.5,840.1 L481.3,836.0 L483.3,837.1 L485.4,839.1 L487.4,838.7 L487.9,834.0 L488.4,835.6 L489.0,832.5 L489.5,830.2 L490.0,826.6 L491.8,828.1 L493.5,824.2 L495.2,824.8 L497.0,823.3 L498.8,820.9 L500.5,818.0 L502.2,822.7 L504.0,815.3 L505.8,817.9 L507.5,820.7 L509.2,821.9 L511.0,818.9 L513.1,822.0 L515.2,823.4 L517.3,819.9 L519.4,822.1 L521.5,820.7 L523.5,819.6 L525.6,824.4 L527.6,817.9 L529.7,822.4 L531.8,821.4 L533.8,820.5 L535.9,817.2 L538.0,822.6 L540.1,817.9 L542.2,818.5 L544.3,815.9 L546.2,819.8 L548.2,815.0 L550.1,813.6 L552.1,814.9 L554.2,811.9 L556.2,816.5 L558.3,815.2 L560.3,813.3 L562.4,815.9 L564.4,816.6 L565.7,812.9 L567.0,820.4 L568.3,817.9 L569.6,824.4 L571.7,823.0 L573.7,820.2 L575.8,821.8 L577.0,817.1 L578.3,821.6 L579.5,813.2 L580.8,815.1 L582.0,811.3 L583.3,810.7 L584.5,807.8 L585.6,808.5 L586.8,801.5 L587.9,805.9 L589.0,799.5 L590.1,800.6 L591.3,797.3 L592.4,795.3 L594.4,797.0 L596.3,796.5 L598.3,795.4 L600.3,798.3 L602.6,797.8 L604.9,794.5 L607.1,796.4 L609.4,795.5 L611.7,797.3 L612.3,794.7 L612.9,792.3 L613.5,786.3 L614.1,790.5 L614.8,784.2 L615.4,783.4 L616.0,781.8 L616.6,779.4 L617.2,775.6 L617.8,777.5 L618.5,771.6 L619.3,769.8 L620.0,771.9 L620.8,765.0 L621.5,763.9 L622.3,766.4 L623.0,757.0 L623.8,761.4 L624.5,757.3 L625.3,754.7 L626.0,751.3 L626.8,751.9 L627.5,751.3 L628.3,744.1 L628.7,745.5 L629.2,742.9 L629.6,740.7 L630.0,738.3 L630.5,734.5 L630.9,734.4 L631.4,734.2 L631.8,727.1 L632.7,726.4 L633.5,727.0 L634.4,723.7 L636.4,723.6 L638.5,717.6 L640.5,721.0 L641.5,718.6 L642.6,716.9 L643.6,715.1 L644.6,708.5 L645.7,714.1 L646.7,705.8 L648.7,707.6 L650.8,707.6 L652.8,705.9 L654.3,701.8 L655.8,701.2 L657.4,704.7 L658.9,696.6 L660.9,701.5 L662.8,699.9 L664.8,697.9 L666.8,702.5 L668.1,700.1 L669.4,703.2 L670.7,707.2 L672.0,706.8 L673.8,707.5 L675.5,711.2 L677.2,711.7 L679.0,715.2 L680.3,712.2 L681.6,717.9 L683.0,717.8 L684.3,721.8 L685.2,721.1 L686.0,726.9 L686.9,725.4 L687.8,725.3 L689.3,732.6 L690.8,728.6 L692.4,734.6 L693.9,733.4 L694.4,739.0 L695.0,738.1 L695.5,742.5 L696.1,741.9 L696.6,747.3 L697.2,745.9 L697.8,752.0 L698.3,752.7 L699.0,753.2 L699.8,756.6 L700.5,758.3 L701.2,763.4 L702.0,760.4 L702.7,766.9 L703.9,768.6 L705.1,766.2 L706.4,774.2 L707.6,771.5 L708.8,773.9 L710.0,779.2 L711.1,776.5 L712.3,783.8 L713.5,782.6 L714.6,783.6 L715.8,790.5 L717.8,782.6 L719.9,789.1 L721.9,782.6 L722.6,785.0 L723.4,791.8 L724.1,791.7 L724.8,792.5 L725.6,793.1 L726.3,800.8 L727.8,798.1 L729.3,803.0 L730.9,799.3 L732.4,805.9 L733.1,805.7 L733.9,807.7 L734.6,810.0 L735.3,814.1 L736.1,814.0 L736.8,817.7 L738.5,816.1 L740.3,822.3 L742.0,820.7 L743.8,824.5 L745.0,822.6 L746.2,828.2 L747.5,826.8 L748.7,829.7 L749.9,830.5 L751.9,832.6 L754.0,831.5 L756.0,831.3 L757.2,832.9 L758.4,835.9 L759.7,834.0 L760.9,841.5 L762.1,838.0 L763.9,841.9 L765.6,835.4 L767.4,838.1 L768.3,842.0 L769.1,842.2 L770.0,844.0 L770.9,847.8 L772.9,845.0 L774.8,845.6 L776.8,844.2 L778.8,844.6 L781.1,843.1 L783.5,847.9 L785.8,842.8 L787.2,843.6 L788.6,842.2 L790.0,839.6 L791.4,839.1 L792.8,836.3 L795.4,838.5 L798.0,832.8 L798.6,838.0 L799.2,829.3 L799.8,832.3 L800.3,827.5 L800.9,826.5 L801.5,822.2 L803.8,827.1 L806.2,819.8 L808.5,825.5 L811.1,820.7 L813.8,823.2 L814.8,825.7 L815.8,824.2 L816.8,828.1 L817.9,828.3 L818.9,832.0 L819.9,831.6 L820.8,834.2 L821.6,839.9 L822.5,837.5 L824.8,838.7 L827.2,840.4 L829.5,838.2 L831.0,839.3 L832.5,837.7 L834.1,832.9 L835.6,831.9 L837.8,832.3 L840.0,832.5 L841.1,832.9 L842.1,833.2 L843.2,841.2 L844.2,836.7 L845.3,839.8 L847.0,845.2 L848.8,843.2 L850.5,841.9 L852.3,845.2 L853.4,849.6 L854.5,848.6 L855.6,851.8 L856.7,853.2 L858.7,850.9 L860.6,855.7 L862.5,849.6 L864.5,854.5 L866.5,847.0 L868.5,849.5 L870.4,845.8 L872.4,847.7 L874.4,843.0 L876.5,843.1 L878.5,842.2 L880.8,842.2 L883.2,841.5 L885.5,839.9 L886.5,848.6 L887.6,843.0 L888.6,848.8 L889.6,848.8 L890.7,852.6 L891.7,851.1 L893.7,853.6 L895.6,850.3 L897.5,851.7 L899.5,852.9 L900.7,847.6 L902.0,851.0 L903.2,844.9 L904.5,842.4 L905.7,845.3 L906.7,840.9 L907.7,840.5 L908.8,836.1 L909.8,836.2 L910.8,833.5 L911.8,834.6 L913.8,829.7 L915.9,831.7 L917.9,836.1 L918.9,833.2 L919.9,835.8 L921.0,840.3 L922.0,837.8 L923.0,845.1 L924.0,846.9 L925.3,845.4 L926.6,847.6 L928.0,848.9 L929.3,852.2 L931.5,849.2 L933.6,851.4 L935.8,852.1 L938.0,849.8 L940.3,847.2 L942.7,854.1 L945.0,846.7 L947.1,849.3 L949.1,848.8 L951.2,849.7 L952.3,848.7 L953.4,854.4 L954.4,853.2 L955.5,859.5 L957.8,856.0 L960.2,860.4 L962.5,857.8 L963.2,861.9 L963.9,862.7 L964.6,863.0 L965.3,868.5 L966.0,867.0 L968.1,869.2 L970.1,865.6 L972.2,866.5 L972.9,859.6 L973.6,864.0 L974.4,857.9 L975.1,855.7 L975.8,853.6 L976.5,852.0 L978.8,851.5 L981.2,855.9 L983.5,853.2 L984.9,852.4 L986.3,860.4 L987.7,860.1 L989.1,858.9 L990.5,862.3 L991.6,863.9 L992.6,865.4 L993.7,869.7 L994.7,871.6 L995.8,872.2 L997.8,869.1 L999.9,870.8 L1002.0,868.8 L1004.0,868.8 L1006.0,864.2 L1008.1,867.8 L1010.1,867.2 L1012.2,867.3 L1014.2,861.3 L1016.3,867.0 L1017.2,859.1 L1018.0,862.8 L1018.9,855.4 L1019.7,858.1 L1020.6,855.6 L1022.2,849.6 L1023.8,850.0 L1025.3,853.7 L1026.9,847.4 L1028.5,847.5 L1030.7,846.3 L1032.9,847.7 L1035.1,848.9 L1037.3,843.9 L1039.5,848.9 L1041.7,845.9 L1043.8,840.7 L1046.0,847.9 L1048.4,844.2 L1050.8,840.2 L1053.2,851.1 L1055.6,839.9 L1057.5,848.4 L1059.5,845.8 L1061.4,851.7 L1063.4,848.8 L1065.3,850.3 L1067.5,851.8 L1069.7,850.1 L1071.8,853.7 L1074.0,850.0 L1076.3,854.2 L1078.7,848.2 L1081.0,850.1 L1083.0,846.1 L1085.0,851.5 L1086.9,847.5 L1088.9,848.4 L1090.8,848.3 L1092.7,849.1 L1094.7,846.5 L1096.6,853.9 L1098.5,851.5 L1099.9,850.7 L1101.3,854.9 L1102.7,853.5 L1104.1,858.9 L1105.5,862.0 L1107.3,856.1 L1109.0,865.6 L1110.8,860.6 L1112.5,862.9 L1114.3,862.6 L1116.0,858.7 L1117.8,861.0 L1119.4,857.4 L1120.9,853.2 L1122.5,856.3 L1124.0,855.0 L1125.6,849.9 L1127.3,852.1 L1129.1,851.0 L1130.8,847.4 L1132.6,849.2 L1133.9,846.9 L1135.2,845.0 L1136.6,845.7 L1137.9,839.4 L1139.9,845.3 L1142.0,842.1 L1144.0,844.5 L1146.2,843.5 L1148.4,845.4 L1150.6,844.6 L1152.8,849.2 L1154.8,844.1 L1156.9,846.4 L1158.9,846.3 L1160.9,845.3 L1163.0,844.4 L1165.0,843.4 L1167.2,843.7 L1169.4,845.1 L1171.6,845.6 L1173.8,846.7 L1175.9,847.5 L1178.0,843.1 L1180.1,851.3 L1182.2,843.5 L1184.3,851.3 L1186.4,843.3 L1188.5,850.6 L1190.6,846.9 L1192.7,849.5 L1194.8,849.0 L1197.1,847.6 L1199.5,850.0 L1201.8,849.5 L1203.3,851.9 L1204.8,850.0 L1206.4,853.7 L1207.9,859.0 L1209.9,849.3 L1212.0,856.5 L1214.0,850.1 L1215.4,850.4 L1216.8,845.3 L1218.2,848.5 L1219.6,842.5 L1221.0,844.1 L1222.2,842.3 L1223.5,840.8 L1224.7,837.8 L1226.0,836.4 L1227.2,831.6 L1228.2,839.0 L1229.3,837.7 L1230.3,842.5 L1231.4,840.0 L1232.4,849.0 L1233.1,844.6 L1233.7,849.8 L1234.3,850.3 L1235.0,854.1 L1237.3,858.1 L1239.7,851.5 L1242.0,857.5 L1244.3,858.4 L1246.7,854.5 L1249.0,853.2 L1250.1,858.1 L1251.2,859.7 L1252.3,861.4 L1253.4,863.0 L1255.2,862.0 L1256.9,863.4 L1258.7,863.4 L1260.7,867.0 L1262.8,861.1 L1264.8,861.3 L1265.2,860.2 L1265.7,862.0 L1266.1,853.8 L1266.5,852.9 L1267.0,850.3 L1267.4,850.8 L1267.9,848.8 L1268.3,843.6 L1270.0,842.8 L1271.8,844.4 L1273.5,842.4 L1275.3,841.5 L1276.7,845.5 L1278.1,841.0 L1279.5,846.5 L1280.9,848.6 L1282.3,852.0 L1283.9,844.1 L1285.6,849.2 L1287.2,843.7 L1288.9,847.4 L1290.5,838.7 L1291.8,842.2 L1293.1,841.2 L1294.4,837.9 L1295.7,834.7 L1297.2,835.4 L1298.8,833.8 L1300.3,832.0 L1301.9,829.7 L1303.4,833.1 L1304.7,823.9 L1306.0,828.2 L1307.2,823.7 L1308.5,822.4 L1310.6,821.5 L1312.8,819.4 L1314.9,820.2 L1316.2,822.8 L1317.5,821.2 L1318.8,829.5 L1320.1,824.4 L1320.9,829.3 L1321.8,830.5 L1322.7,833.0 L1323.5,835.3 L1324.3,836.4 L1325.2,839.3 L1326.9,843.0 L1328.6,838.9 L1330.3,844.6 L1331.6,843.4 L1332.9,841.1 L1334.2,836.6 L1335.5,839.9 L1336.5,833.9 L1337.5,835.6 L1338.6,829.9 L1339.6,832.0 L1340.6,831.5 L1342.7,822.0 L1344.9,828.5 L1347.0,826.0 L1348.7,822.2 L1350.4,819.5 L1352.1,821.3 L1353.8,818.7 L1355.6,822.0 L1357.3,824.5 L1359.0,821.9 L1360.7,823.7 L1362.4,826.0 L1364.1,825.1 L1365.8,824.4 L1367.5,822.3 L1369.7,820.6 L1371.8,819.7 L1374.0,823.8 L1376.1,820.3 L1378.3,815.9 L1380.4,819.6 L1383.0,816.6 L1385.5,823.1 L1387.2,818.4 L1389.0,823.9 L1390.7,822.2 L1392.9,822.7 L1395.1,825.3 L1396.0,819.1 L1396.9,815.6 L1397.8,820.7 L1398.7,810.2 L1399.6,811.3 L1400.9,814.6 L1402.2,803.4 L1403.5,811.1 L1404.8,805.3 L1406.5,802.0 L1408.2,802.6 L1409.9,802.0 L1411.2,802.2 L1412.5,806.8 L1413.8,804.6 L1415.7,806.2 L1417.6,814.1 L1419.5,809.3 L1420.6,814.4 L1421.8,812.8 L1422.9,814.9 L1424.0,821.5 L1425.3,819.5 L1426.6,822.3 L1427.8,820.2 L1429.1,824.3 L1430.4,828.5 L1431.1,826.2 L1431.7,829.3 L1432.3,833.7 L1433.0,832.8 L1433.7,837.6 L1434.3,835.5 L1435.6,837.1 L1436.8,845.6 L1438.1,841.2 L1440.3,844.4 L1442.4,840.9 L1444.6,842.2 L1446.3,835.3 L1448.0,841.3 L1449.7,836.2 L1451.4,839.4 L1453.1,830.7 L1454.8,837.7 L1456.9,832.1 L1459.1,837.8 L1461.2,839.6 L1463.4,833.1 L1465.5,837.2 L1467.7,834.4 L1468.7,834.8 L1469.6,829.5 L1470.5,832.5 L1471.5,825.3 L1472.8,824.5 L1474.1,825.7 L1475.4,819.2 L1476.7,822.2 L1478.0,826.2 L1479.2,828.2 L1480.5,825.6 L1481.2,826.1 L1481.8,834.0 L1482.5,835.6 L1483.1,836.4 L1483.8,836.4 L1484.4,838.5 L1485.1,845.0 L1486.4,847.6 L1487.7,842.7 L1489.0,847.8 L1490.3,851.3 L1491.6,849.5 L1494.2,854.0 L1496.7,847.7 L1497.2,851.9 L1497.8,843.0 L1498.3,844.1 L1498.9,844.8 L1499.4,841.5 L1500.0,836.2 L1500.5,834.6 L1502.2,837.5 L1504.0,832.4 L1505.7,831.4 L1507.6,831.3 L1509.6,829.8 L1511.5,834.1 L1513.4,826.2 L1514.7,830.0 L1516.0,824.0 L1517.2,824.4 L1518.5,824.8 L1520.6,818.7 L1522.8,822.1 L1524.9,824.6 L1527.0,816.1 L1529.2,824.4 L1531.3,818.7 L1533.2,821.3 L1535.2,822.2 L1537.1,826.7 L1539.0,820.7 L1540.9,827.8 L1542.8,821.9 L1544.8,826.0 L1546.7,825.7 L1548.6,823.0 L1550.6,825.8 L1552.5,825.5 L1554.4,825.8 L1555.7,827.3 L1557.0,820.5 L1558.3,821.3 L1559.6,819.7 L1560.9,819.0 L1563.5,818.2 L1566.0,820.8 L1568.6,816.4 L1571.2,814.6 L1573.7,822.5 L1574.1,815.0 L1574.6,821.6 L1575.0,825.1 L1575.4,825.3 L1575.9,825.4 L1576.3,833.7 L1578.8,826.2 L1581.4,828.5 L1582.7,830.0 L1584.0,821.7 L1585.2,823.1 L1586.5,821.1 L1587.8,820.6 L1589.1,815.3 L1590.4,817.8 L1591.7,812.4 L1593.4,814.1 L1595.1,817.5 L1596.8,813.5 L1598.4,823.8 L1600.0,817.8 L1601.6,820.1 L1603.2,825.3 L1605.3,825.3 L1607.5,820.7 L1609.6,827.3 L1612.2,824.2 L1614.8,821.8 L1615.3,827.7 L1615.7,826.4 L1616.2,828.0 L1616.6,835.8 L1617.1,831.4 L1617.5,840.6 L1618.0,836.5 L1619.4,840.8 L1620.8,839.8 L1622.2,847.1 L1623.6,847.3 L1625.0,845.8 L1625.9,847.2 L1626.7,855.4 L1627.6,851.2 L1628.5,859.6 L1629.3,852.8 L1630.2,862.9 L1631.9,854.4 L1633.6,859.2 L1635.3,855.1 L1636.6,854.9 L1637.8,847.8 L1639.1,855.0 L1640.4,845.1 L1641.3,843.6 L1642.1,848.1 L1643.0,840.1 L1643.9,838.7 L1644.7,838.9 L1645.6,836.1 L1647.3,836.8 L1649.0,836.2 L1650.7,829.5 L1652.6,834.6 L1654.6,836.2 L1656.5,828.1 L1658.4,836.2 L1660.3,829.9 L1662.2,832.2 L1664.2,826.9 L1666.1,833.2 L1667.8,826.8 L1669.5,830.9 L1671.2,826.9 L1672.2,828.1 L1673.3,831.4 L1674.3,831.3 L1675.4,840.3 L1676.4,835.4 L1677.9,838.0 L1679.3,842.9 L1680.8,840.7 L1682.2,845.1 L1683.6,846.6 L1685.1,849.2 L1686.5,847.5 L1687.9,849.1" stroke="#f14040" stroke-width="12.3"/>
<path d="M141.4,641.3 L143.7,644.5 L146.0,641.4 L147.8,645.2 L149.5,645.5 L151.3,645.1 L153.0,648.9 L154.8,647.1 L156.5,650.7 L158.3,649.8 L160.0,650.9 L161.8,652.2 L163.5,655.1 L165.7,652.0 L167.9,652.8 L170.1,653.4 L172.3,654.4 L174.5,653.0 L176.7,652.1 L177.9,657.5 L179.2,654.1 L180.4,661.0 L181.7,659.9 L182.9,662.2 L184.2,663.8 L185.4,665.5 L187.6,667.0 L189.8,662.7 L192.0,664.1 L194.2,663.3 L196.2,661.1 L198.3,661.9 L200.3,659.1 L202.4,658.7 L204.4,657.5 L205.8,661.1 L207.3,661.6 L208.8,663.2 L210.2,666.3 L212.0,665.0 L213.8,663.2 L215.7,664.5 L217.5,663.4 L219.5,660.4 L221.5,661.0 L223.5,658.6 L225.6,658.8 L227.6,657.3 L229.6,653.9 L231.6,657.0 L233.6,651.4 L235.3,654.6 L236.9,657.6 L238.6,656.0 L240.2,660.2 L241.9,658.6 L243.5,662.6 L245.2,663.6 L247.2,661.7 L249.3,663.3 L251.3,659.8 L253.4,661.4 L255.4,659.9 L257.4,659.6 L259.5,658.0 L261.5,658.7 L263.6,658.5 L265.6,655.9 L267.4,659.4 L269.2,657.4 L271.1,661.6 L272.9,661.1 L275.2,662.3 L277.5,661.8 L279.8,659.9 L282.1,660.4 L284.4,661.9 L286.7,658.4 L289.0,661.1 L290.9,658.7 L292.9,658.2 L294.8,656.2 L296.8,660.2 L298.8,657.5 L300.8,659.4 L302.9,659.6 L304.9,662.8 L306.9,659.6 L308.9,662.6 L310.9,662.4 L313.0,662.7 L315.1,661.1 L317.2,661.5 L319.3,658.5 L321.4,659.2 L323.5,657.2 L325.6,658.1 L327.7,658.0 L329.8,654.5 L331.7,657.0 L333.7,658.3 L335.6,659.0 L337.6,660.8 L339.5,662.5 L341.5,662.9 L343.4,663.1 L345.4,666.1 L347.3,666.2 L349.2,665.4 L351.2,665.9 L353.1,663.8 L355.1,662.6 L357.0,662.2 L359.0,662.4 L360.9,658.0 L362.9,661.0 L364.8,658.3 L367.0,659.3 L369.1,659.9 L371.3,659.1 L373.5,660.7 L375.7,659.3 L377.8,662.8 L380.0,660.5 L382.3,661.0 L383.8,659.8 L385.2,657.3 L386.6,656.7 L388.1,653.8 L389.6,652.1 L391.0,651.0 L392.8,649.3 L394.5,649.9 L396.2,646.2 L398.0,649.0 L399.8,646.2 L401.5,643.6 L403.2,643.2 L405.0,642.0 L407.3,641.7 L409.7,639.2 L412.0,641.1 L412.7,639.4 L413.5,635.5 L414.2,635.2 L414.9,631.9 L415.7,630.3 L416.4,629.3 L418.4,626.4 L420.4,628.1 L422.3,624.0 L424.3,621.8 L426.3,626.8 L428.4,625.8 L430.4,625.8 L432.7,628.5 L435.1,625.4 L437.4,627.1 L438.4,629.7 L439.5,630.6 L440.5,632.7 L441.6,633.2 L442.6,636.3 L444.6,633.6 L446.6,635.4 L448.5,632.4 L450.5,633.4 L452.5,631.2 L454.6,630.0 L456.6,631.2 L457.3,628.8 L458.0,626.0 L458.6,623.9 L459.3,621.9 L461.2,622.0 L463.2,619.6 L465.2,621.2 L467.1,620.3 L468.7,618.2 L470.2,617.0 L471.8,616.5 L473.3,614.1 L475.6,614.2 L478.0,614.2 L480.3,610.5 L481.2,610.9 L482.0,608.5 L482.9,607.3 L483.8,603.9 L484.6,602.4 L485.5,600.9 L487.2,599.9 L489.0,598.4 L490.8,598.4 L492.5,597.8 L494.8,597.2 L497.2,595.2 L499.5,595.5 L501.9,596.7 L504.3,593.0 L506.7,595.3 L509.1,595.2 L509.8,592.3 L510.4,590.8 L511.1,588.3 L511.7,584.7 L512.4,585.8 L513.0,580.5 L513.7,580.3 L514.4,578.9 L515.0,574.7 L515.7,572.7 L516.3,572.6 L517.0,569.8 L518.8,567.3 L520.5,566.9 L522.3,564.6 L524.6,566.9 L527.0,566.1 L529.3,562.8 L530.6,563.5 L531.9,561.3 L533.7,561.6 L535.4,562.0 L537.2,565.0 L538.8,562.3 L540.3,559.8 L541.9,562.4 L543.4,558.8 L545.0,557.1 L547.3,559.1 L549.7,555.8 L552.0,557.8 L553.2,556.4 L554.3,553.0 L555.5,552.6 L557.6,552.2 L559.6,550.8 L561.7,552.0 L561.9,547.7 L562.1,546.8 L562.3,542.0 L562.5,543.4 L563.9,538.7 L565.3,538.1 L566.7,536.2 L568.1,536.3 L569.5,531.8 L570.9,533.3 L572.3,529.5 L573.7,528.7 L575.1,527.9 L576.5,524.0 L577.6,524.7 L578.6,521.5 L579.7,518.2 L580.7,520.1 L581.8,514.4 L583.0,514.2 L584.2,513.1 L585.5,510.7 L586.7,508.2 L587.9,507.3 L588.6,504.7 L589.3,504.3 L590.0,498.9 L590.7,499.8 L591.5,495.9 L592.2,493.6 L592.9,493.5 L593.6,489.6 L594.3,487.8 L595.8,486.3 L597.3,485.5 L598.9,481.7 L600.4,481.4 L602.1,479.1 L603.9,477.3 L605.6,476.5 L606.1,473.0 L606.6,471.5 L607.1,468.2 L607.6,467.9 L608.1,463.8 L608.6,462.4 L609.1,461.2 L609.5,456.2 L610.0,455.5 L610.4,454.2 L610.9,452.2 L611.3,448.0 L611.7,446.3 L612.2,445.8 L612.6,441.6 L613.1,441.0 L613.6,437.3 L614.1,437.3 L614.6,434.5 L615.1,433.9 L615.6,428.4 L616.1,429.5 L616.5,427.1 L616.8,422.3 L617.2,423.2 L617.5,421.4 L617.9,415.6 L618.5,417.9 L619.1,412.7 L619.6,410.9 L620.2,410.5 L620.8,408.2 L621.4,403.7 L621.9,403.4 L622.5,401.4 L623.1,398.7 L624.1,396.6 L625.2,394.9 L626.2,395.3 L627.2,389.8 L628.3,391.1 L629.3,388.8 L629.7,385.0 L630.1,384.0 L630.5,382.5 L630.9,380.3 L631.2,375.4 L631.6,377.2 L632.0,372.7 L632.4,372.8 L632.8,367.4 L633.7,367.5 L634.5,363.3 L635.4,364.7 L636.2,360.0 L637.1,357.8 L637.6,356.0 L638.2,355.1 L638.8,352.7 L639.3,349.0 L639.9,346.2 L640.4,347.2 L641.0,342.4 L641.5,342.2 L642.4,337.9 L643.2,335.6 L644.1,335.9 L645.0,332.4 L645.4,328.1 L645.7,329.7 L646.1,324.8 L646.5,324.7 L646.9,318.6 L647.2,321.3 L647.6,314.0 L648.2,316.2 L648.9,311.5 L649.5,309.2 L650.1,307.3 L650.7,306.9 L651.4,302.2 L652.0,299.9 L652.6,299.9 L653.3,296.5 L653.9,294.5 L654.5,293.1 L655.1,290.4 L655.8,288.9 L656.4,287.0 L657.3,284.1 L658.3,284.4 L659.2,279.8 L660.2,279.8 L661.1,276.2 L663.0,276.3 L664.8,273.0 L666.7,273.1 L668.3,272.6 L670.0,277.4 L671.6,278.0 L672.7,278.8 L673.8,281.6 L675.0,286.1 L676.1,283.6 L677.2,290.0 L678.3,289.6 L678.9,292.1 L679.5,296.0 L680.1,296.1 L680.8,299.2 L681.4,301.3 L682.0,305.3 L682.6,304.2 L683.2,309.1 L683.8,310.1 L684.5,312.6 L685.1,314.1 L685.7,316.9 L686.3,318.0 L686.9,320.9 L687.6,321.6 L688.2,326.7 L688.8,326.4 L689.2,329.1 L689.7,329.9 L690.1,334.5 L690.6,335.8 L691.0,337.8 L691.4,339.0 L691.9,341.6 L692.3,343.6 L692.8,346.6 L693.2,347.1 L693.7,350.9 L694.3,351.0 L694.8,355.7 L695.4,357.4 L695.9,358.7 L696.4,359.5 L697.0,365.5 L697.5,364.4 L697.9,368.2 L698.2,368.5 L698.5,372.3 L698.9,374.0 L699.2,376.5 L699.6,377.1 L700.0,381.5 L700.3,381.1 L700.6,385.1 L701.0,385.7 L701.4,389.8 L701.8,390.4 L702.2,392.7 L702.6,396.0 L703.0,397.0 L703.4,400.5 L703.8,401.6 L704.2,404.8 L704.6,406.3 L705.0,408.6 L705.4,412.0 L706.0,412.3 L706.7,413.8 L707.3,419.4 L707.9,416.7 L708.5,422.0 L709.2,423.8 L709.8,422.8 L710.3,428.2 L710.8,429.5 L711.3,430.4 L711.8,433.0 L712.3,436.2 L712.8,435.3 L713.3,439.6 L713.9,440.4 L714.6,443.5 L715.2,444.8 L715.9,447.3 L716.5,448.0 L717.2,451.7 L717.9,452.5 L718.5,455.6 L719.2,456.6 L719.8,458.7 L720.5,461.2 L721.1,464.3 L721.8,464.2 L722.5,469.5 L723.1,469.6 L723.8,472.4 L724.4,474.3 L724.9,476.8 L725.5,478.9 L726.1,478.5 L726.6,483.9 L727.2,484.9 L727.8,486.2 L728.3,488.6 L728.9,491.9 L729.8,491.0 L730.6,497.0 L731.5,496.8 L732.4,498.9 L734.1,500.8 L735.9,504.6 L737.6,503.1 L739.4,507.0 L739.8,509.8 L740.2,510.3 L740.7,512.8 L741.1,515.1 L742.9,517.2 L744.6,519.1 L746.4,520.2 L747.1,523.5 L747.9,523.6 L748.6,526.6 L749.3,528.1 L750.1,532.2 L750.8,531.7 L752.1,535.9 L753.4,535.3 L754.7,537.8 L756.0,539.5 L758.2,540.0 L760.4,539.0 L761.6,541.2 L762.7,541.4 L763.9,544.6 L765.1,545.8 L766.2,548.2 L767.4,547.6 L769.1,552.6 L770.9,548.8 L772.6,553.3 L774.7,554.9 L776.7,552.8 L778.8,556.5 L781.1,557.3 L783.5,558.6 L785.8,557.6 L788.4,557.5 L791.0,556.0 L792.8,560.5 L794.5,557.3 L796.3,561.2 L798.3,557.4 L800.4,557.5 L802.4,558.4 L804.1,555.5 L805.9,560.9 L807.6,559.7 L809.8,562.5 L812.0,563.0 L813.3,559.2 L814.6,561.2 L816.0,558.0 L817.3,555.7 L819.2,555.4 L821.2,556.8 L823.1,555.9 L825.1,555.5 L826.3,552.9 L827.4,551.8 L828.6,548.5 L830.7,552.1 L832.7,548.0 L834.8,552.2 L836.8,552.4 L838.7,548.7 L840.6,552.7 L842.6,550.5 L843.3,554.4 L844.0,553.9 L844.6,557.1 L845.3,558.1 L847.6,561.5 L850.0,560.4 L852.3,561.1 L854.0,562.6 L855.8,562.9 L857.5,563.0 L860.1,561.9 L862.8,564.6 L864.2,562.3 L865.6,568.2 L867.0,566.7 L868.4,569.2 L869.8,572.2 L872.0,571.4 L874.1,572.4 L876.3,575.0 L878.5,574.8 L880.4,574.3 L882.4,572.7 L884.3,573.1 L886.3,572.7 L888.2,570.4 L889.8,573.9 L891.3,571.6 L892.9,576.5 L894.4,575.2 L896.0,578.1 L898.2,578.7 L900.4,579.0 L902.6,578.2 L904.8,583.6 L906.8,579.5 L908.8,582.5 L910.7,582.0 L912.7,581.8 L915.3,583.4 L917.9,585.0 L919.6,583.5 L921.4,588.2 L923.1,587.8 L924.9,591.2 L926.9,589.3 L928.8,587.5 L930.8,586.5 L932.8,584.3 L935.2,586.6 L937.6,584.2 L940.0,582.4 L942.4,584.5 L944.3,585.6 L946.2,585.2 L948.2,586.1 L950.1,588.0 L952.0,588.2 L953.8,590.5 L955.5,589.9 L957.2,591.6 L959.0,591.8 L960.1,594.0 L961.1,596.5 L962.2,597.8 L963.2,598.7 L964.3,600.8 L965.4,603.2 L966.5,604.3 L967.6,606.6 L968.7,607.2 L970.7,606.8 L972.6,609.6 L974.5,604.8 L976.5,606.7 L978.2,604.6 L980.0,604.7 L981.8,600.6 L983.5,600.3 L984.9,601.5 L986.3,603.5 L987.7,604.1 L989.1,607.4 L990.5,607.8 L992.9,610.1 L995.2,608.0 L997.6,609.0 L1000.0,611.5 L1001.9,610.2 L1003.8,606.9 L1005.6,607.5 L1007.5,603.3 L1009.6,604.7 L1011.7,605.9 L1013.8,604.7 L1015.9,604.8 L1018.0,606.2 L1019.8,605.7 L1021.5,608.1 L1023.2,609.6 L1025.0,612.2 L1027.2,611.7 L1029.4,612.7 L1031.6,611.7 L1033.8,611.6 L1035.9,612.1 L1038.0,610.2 L1040.1,611.3 L1042.2,607.8 L1044.3,611.4 L1046.4,608.4 L1048.5,612.9 L1050.6,612.5 L1052.7,613.2 L1054.8,614.0 L1057.0,614.3 L1059.2,615.5 L1061.3,616.2 L1063.5,614.5 L1065.2,615.9 L1067.0,618.6 L1068.8,619.7 L1070.5,620.6 L1072.8,618.9 L1075.2,620.4 L1077.5,616.6 L1079.5,619.1 L1081.5,619.2 L1083.4,621.9 L1085.4,620.6 L1087.0,624.1 L1088.6,624.4 L1090.1,625.8 L1091.7,626.7 L1093.3,631.0 L1095.5,629.0 L1097.7,627.9 L1099.8,626.2 L1102.0,627.3 L1104.1,626.6 L1106.2,624.9 L1108.3,623.2 L1110.4,623.5 L1112.5,623.9 L1114.5,622.2 L1116.5,622.9 L1118.4,624.7 L1120.4,624.7 L1122.1,627.6 L1123.9,626.1 L1125.6,630.3 L1127.4,630.9 L1129.1,632.1 L1131.2,629.6 L1133.4,632.8 L1135.5,627.9 L1137.6,630.8 L1139.7,627.4 L1141.9,626.7 L1144.0,628.4 L1145.8,626.0 L1147.5,630.6 L1149.2,629.6 L1151.0,630.3 L1152.8,631.6 L1154.5,632.8 L1156.5,633.1 L1158.6,635.2 L1160.7,632.1 L1162.7,634.7 L1164.8,632.8 L1166.8,637.1 L1168.7,634.1 L1170.6,635.9 L1172.5,636.3 L1174.4,637.3 L1176.3,639.1 L1178.2,639.2 L1179.8,637.1 L1181.3,637.1 L1182.9,636.2 L1184.4,633.4 L1186.0,631.5 L1188.4,634.2 L1190.8,633.3 L1193.3,630.1 L1195.7,633.5 L1197.7,632.2 L1199.6,633.4 L1201.5,634.1 L1203.5,634.6 L1205.5,633.8 L1207.6,634.7 L1209.7,633.3 L1211.7,636.4 L1213.8,631.3 L1215.8,636.4 L1218.0,633.2 L1220.2,635.0 L1222.3,637.2 L1224.5,637.9 L1226.6,638.3 L1228.7,638.1 L1230.8,641.3 L1232.9,640.4 L1235.0,644.5 L1237.2,641.5 L1239.4,642.8 L1241.6,646.1 L1243.8,642.3 L1246.0,643.6 L1248.2,643.7 L1250.3,643.4 L1252.5,640.4 L1254.6,641.9 L1256.7,641.0 L1258.8,645.1 L1260.9,641.2 L1263.0,643.9 L1265.1,644.9 L1267.2,643.3 L1269.3,643.2 L1271.4,646.4 L1273.5,645.1 L1275.7,644.7 L1277.9,648.2 L1280.1,647.2 L1282.3,649.0 L1284.6,646.1 L1287.0,647.8 L1289.3,646.7 L1291.4,644.0 L1293.6,645.8 L1295.7,641.0 L1298.2,642.4 L1300.8,641.7 L1302.8,644.2 L1304.7,645.6 L1306.0,642.6 L1307.2,641.3 L1308.5,640.5 L1309.8,638.3 L1311.9,640.8 L1314.1,636.7 L1316.2,640.0 L1318.1,639.8 L1320.1,641.4 L1322.0,642.5 L1323.9,643.6 L1325.8,643.1 L1327.8,643.7 L1329.7,643.3 L1331.6,645.9 L1333.5,643.1 L1335.4,644.1 L1337.4,646.8 L1339.3,644.9 L1341.2,646.3 L1343.2,646.7 L1345.1,649.9 L1347.0,648.4 L1348.9,651.5 L1350.8,650.5 L1352.8,652.6 L1354.7,650.9 L1356.6,650.8 L1358.6,649.9 L1360.5,650.2 L1362.4,650.0 L1364.7,649.1 L1366.9,648.6 L1369.2,649.2 L1371.4,649.4 L1373.3,650.0 L1375.2,650.8 L1377.2,652.1 L1379.1,653.0 L1381.0,649.3 L1382.9,652.2 L1384.9,647.7 L1386.8,648.6 L1388.5,645.6 L1390.2,646.6 L1391.9,642.8 L1393.7,642.4 L1395.4,641.1 L1397.1,638.3 L1399.0,641.6 L1400.9,640.2 L1402.9,640.1 L1404.8,640.1 L1406.7,643.3 L1408.7,641.8 L1410.6,641.4 L1412.5,644.6 L1414.4,642.8 L1416.3,645.7 L1418.3,641.9 L1420.2,644.1 L1422.1,644.0 L1424.0,642.7 L1426.0,643.7 L1427.9,639.7 L1429.8,641.5 L1431.7,639.8 L1433.5,640.5 L1435.3,644.9 L1437.1,643.3 L1438.9,647.3 L1440.7,645.6 L1442.6,649.6 L1444.6,648.5 L1446.5,648.6 L1448.4,651.1 L1450.3,651.8 L1452.2,647.7 L1454.2,650.3 L1456.1,649.9 L1458.0,647.8 L1459.9,648.9 L1461.9,647.3 L1463.8,647.3 L1465.7,646.7 L1467.7,647.4 L1469.6,647.6 L1471.5,646.2 L1473.6,646.5 L1475.8,647.9 L1477.9,650.0 L1479.5,649.0 L1481.2,651.8 L1482.8,651.8 L1484.4,655.6 L1486.1,655.4 L1487.7,654.9 L1490.0,654.8 L1492.2,655.0 L1494.5,654.4 L1496.7,654.8 L1498.7,652.1 L1500.7,651.6 L1502.7,652.9 L1504.8,650.6 L1506.8,649.9 L1508.8,648.4 L1510.8,650.8 L1512.7,647.6 L1514.7,650.1 L1516.6,649.2 L1518.5,649.4 L1520.3,651.6 L1522.1,653.5 L1523.9,652.7 L1525.7,653.4 L1527.5,657.4 L1529.4,656.0 L1531.3,655.6 L1533.3,660.3 L1535.2,657.5 L1537.5,659.9 L1539.7,656.9 L1542.0,659.4 L1544.2,657.5 L1546.3,657.3 L1548.5,656.4 L1550.6,658.1 L1552.7,656.9 L1554.9,658.9 L1557.0,654.8 L1558.9,659.5 L1560.8,658.9 L1562.8,661.6 L1564.7,661.3 L1566.6,661.0 L1568.6,659.9 L1570.5,661.2 L1572.4,656.4 L1574.0,656.8 L1575.6,655.3 L1577.2,655.0 L1578.8,650.8 L1580.7,649.7 L1582.7,651.6 L1584.6,650.3 L1586.5,648.6 L1588.4,647.6 L1590.3,652.9 L1592.3,649.9 L1594.2,653.8 L1596.1,652.4 L1598.1,655.2 L1600.0,652.4 L1601.9,657.0 L1604.2,654.0 L1606.5,654.9 L1608.9,656.2 L1611.2,656.6 L1613.5,654.6 L1615.3,657.0 L1617.1,658.9 L1618.9,660.7 L1620.7,662.1 L1622.5,662.8 L1624.2,664.1 L1626.0,666.5 L1627.8,668.9 L1629.5,666.4 L1631.0,667.7 L1632.4,667.2 L1633.8,661.8 L1635.3,665.2 L1637.7,660.0 L1640.0,661.9 L1642.4,660.0 L1644.3,661.9 L1646.2,661.6 L1648.1,663.3 L1650.3,663.8 L1652.6,662.5 L1654.8,663.7 L1657.1,662.5 L1658.8,662.6 L1660.6,659.4 L1662.3,661.4 L1664.2,660.9 L1666.2,659.9 L1668.1,662.4 L1670.0,662.6 L1672.1,661.6 L1674.3,660.4 L1676.4,662.0 L1678.5,659.8 L1680.7,659.6 L1682.8,660.6 L1685.3,658.6 L1687.9,660.3" stroke="#1a6fdf" stroke-width="12.3"/>
</g>
<line x1="663" y1="191" x2="663" y2="984.7" stroke="#000" stroke-width="2.2"/>
<text transform="translate(141.0,1249)" font-size="55.5" text-anchor="middle" fill="#000">150</text>
<text transform="translate(412.9,1249)" font-size="55.5" text-anchor="middle" fill="#000">300</text>
<text transform="translate(684.9,1249)" font-size="55.5" text-anchor="middle" fill="#000">450</text>
<text transform="translate(956.8,1249)" font-size="55.5" text-anchor="middle" fill="#000">600</text>
<text transform="translate(1228.8,1249)" font-size="55.5" text-anchor="middle" fill="#000">750</text>
<text transform="translate(1500.7,1249)" font-size="55.5" text-anchor="middle" fill="#000">900</text>
<text transform="translate(625.3,1337) scale(0.9755,1)" font-size="71" text-anchor="start" fill="#000">Raman Shift / cm<tspan font-size="48.3" dy="-31.4" dx="-1">-1</tspan></text>
<text transform="translate(86,563.5) rotate(-90) scale(0.983,1)" font-size="71" text-anchor="middle" fill="#000">Intensity / a.u.</text>
<text transform="translate(688.5,239)" font-size="55.5" text-anchor="start" fill="#000">439<tspan dx="-1.8"> cm</tspan><tspan font-size="37.7" dy="-25" dx="-1">-1</tspan></text>
<text transform="translate(1039.2,733.9) scale(0.974,1)" font-size="61" text-anchor="start" fill="#1a6fdf">0.7TiO<tspan font-size="42.7" dy="17.8" dx="-1">2</tspan><tspan dy="-17.8" dx="2.2">-Pt/CeO</tspan><tspan font-size="42.7" dy="17.8" dx="-1">2</tspan><tspan dy="-17.8" dx="1">-300</tspan><tspan font-family="Liberation Serif,serif" font-size="54.0" dy="-1.4" dx="0.4">°</tspan><tspan dy="1.4" dx="0.2">C</tspan></text>
<text transform="translate(1034.1,927.8) scale(0.974,1)" font-size="61" text-anchor="start" fill="#f14040">0.5TiO<tspan font-size="42.7" dy="17.8" dx="-1">2</tspan><tspan dy="-17.8" dx="2.2">-Pt/CeO</tspan><tspan font-size="42.7" dy="17.8" dx="-1">2</tspan><tspan dy="-17.8" dx="1">-300</tspan><tspan font-family="Liberation Serif,serif" font-size="54.0" dy="-1.4" dx="0.4">°</tspan><tspan dy="1.4" dx="0.2">C</tspan></text>
<text transform="translate(1023.7,1118.8) scale(0.974,1)" font-size="61" text-anchor="start" fill="#515151">0.3TiO<tspan font-size="42.7" dy="17.8" dx="-1">2</tspan><tspan dy="-17.8" dx="2.2">-Pt/CeO</tspan><tspan font-size="42.7" dy="17.8" dx="-1">2</tspan><tspan dy="-17.8" dx="1">-300</tspan><tspan font-family="Liberation Serif,serif" font-size="54.0" dy="-1.4" dx="0.4">°</tspan><tspan dy="1.4" dx="0.2">C</tspan></text>
</svg></body></html>
